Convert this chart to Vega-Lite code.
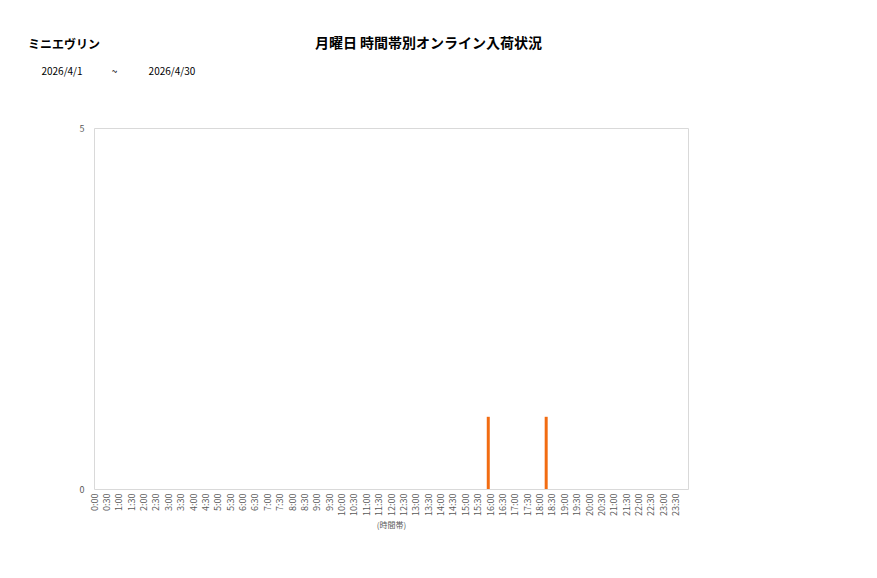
{
  "$schema": "https://vega.github.io/schema/vega-lite/v6.json",
  "autosize": {"type": "none"},
  "width": 594,
  "height": 361,
  "padding": {"left": 94, "top": 128, "right": 189, "bottom": 89},
  "background": "white",
  "config": {
    "font": "Noto Sans CJK JP",
    "view": {"stroke": "#d9d9d9", "strokeWidth": 1}
  },
  "title": {
    "text": "ミニエヴリン",
    "subtitle": "\u200b\u00a0\u00a0\u00a0\u00a0\u00a0\u00a02026/4/1\u00a0\u00a0\u00a0\u00a0\u00a0\u00a0\u00a0\u00a0\u00a0\u00a0\u00a0\u00a0\u00a0~\u00a0\u00a0\u00a0\u00a0\u00a0\u00a0\u00a0\u00a0\u00a0\u00a0\u00a0\u00a0\u00a0\u00a02026/4/30",
    "anchor": "start",
    "frame": "group",
    "dx": -66,
    "offset": -42,
    "font": "Noto Sans CJK JP",
    "fontSize": 12,
    "fontWeight": "bold",
    "color": "#000000",
    "subtitleFont": "Noto Sans CJK JP",
    "subtitleFontSize": 10,
    "subtitleColor": "#000000",
    "subtitlePadding": 15
  },
  "data": {
    "values": [
      {"hour": 15.93, "count": 1},
      {"hour": 18.27, "count": 1}
    ]
  },
  "mark": {"type": "rule", "color": "#f26c12", "strokeWidth": 3},
  "encoding": {
    "x": {
      "field": "hour",
      "type": "quantitative",
      "scale": {"domain": [0, 24], "nice": false, "zero": false},
      "axis": {
        "values": [0, 0.5, 1, 1.5, 2, 2.5, 3, 3.5, 4, 4.5, 5, 5.5, 6, 6.5, 7, 7.5, 8, 8.5, 9, 9.5, 10, 10.5, 11, 11.5, 12, 12.5, 13, 13.5, 14, 14.5, 15, 15.5, 16, 16.5, 17, 17.5, 18, 18.5, 19, 19.5, 20, 20.5, 21, 21.5, 22, 22.5, 23, 23.5],
        "labelExpr": "floor(datum.value) + ':' + (datum.value % 1 == 0 ? '00' : '30')",
        "labelAngle": -90,
        "labelAlign": "right",
        "labelBaseline": "middle",
        "labelFontSize": 9,
        "labelColor": "#595959",
        "labelPadding": 4,
        "labelOverlap": false,
        "labelFlush": false,
        "ticks": false,
        "domain": false,
        "grid": false,
        "title": "(時間帯)",
        "titleFontSize": 8,
        "titleFontWeight": "normal",
        "titleColor": "#595959",
        "titlePadding": 6
      }
    },
    "y": {
      "field": "count",
      "type": "quantitative",
      "scale": {"domain": [0, 5], "nice": false},
      "axis": {
        "values": [0, 5],
        "ticks": false,
        "domain": false,
        "grid": false,
        "labelFontSize": 9,
        "labelColor": "#595959",
        "labelPadding": 10,
        "title": "月曜日 時間帯別オンライン入荷状況",
        "titleAngle": 0,
        "titleAlign": "center",
        "titleBaseline": "middle",
        "titleX": 334,
        "titleY": -85,
        "titleFontSize": 14,
        "titleFontWeight": "bold",
        "titleColor": "#000000"
      }
    },
    "y2": {"datum": 0}
  }
}
